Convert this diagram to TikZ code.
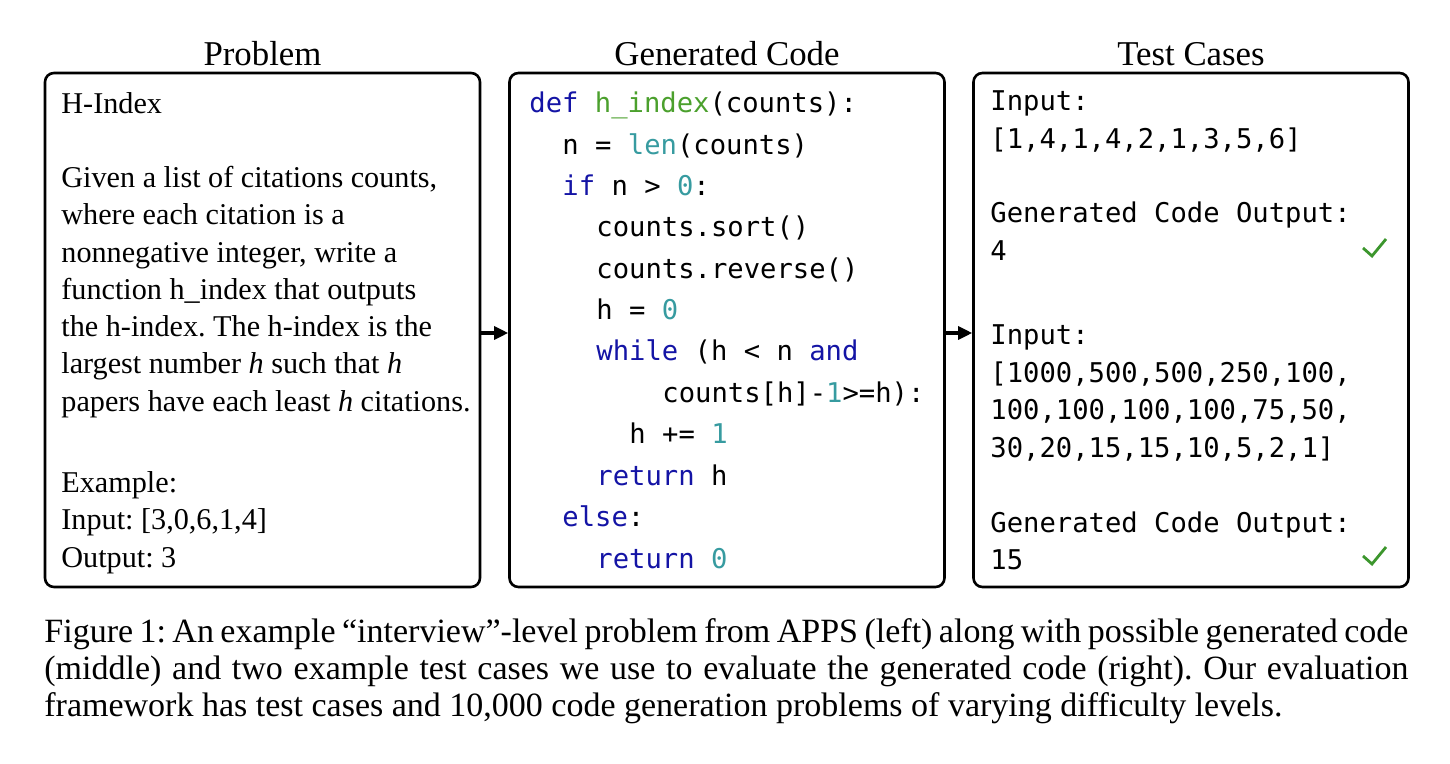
\documentclass[tikz,border=0pt]{standalone}
\usepackage{fontspec}
\setmainfont{Liberation Serif}
\setmonofont{DejaVu Sans Mono}
\usetikzlibrary{arrows.meta}
\definecolor{kw}{RGB}{20,20,165}
\definecolor{fn}{RGB}{75,160,45}
\definecolor{num}{RGB}{55,155,160}
\definecolor{tickgreen}{RGB}{60,150,45}
\frenchspacing
\begin{document}
\begin{tikzpicture}[x=0.5pt,y=-0.5pt]
\useasboundingbox (0,0) rectangle (1450,764);
\tikzset{
 panel/.style={draw, line width=1.3pt, rounded corners=4.5pt, minimum width=217.5pt, minimum height=257pt, inner sep=0pt},
 paneltitle/.style={font=\fontsize{17.4}{20}\selectfont, anchor=base, inner sep=0pt},
 prose/.style={font=\fontsize{15.1}{18}\selectfont, anchor=base west, inner sep=0pt},
 codeline/.style={font=\fontsize{13.6}{16}\ttfamily, anchor=base west, inner sep=0pt},
 captext/.style={font=\fontsize{17}{19}\selectfont, anchor=base west, inner sep=0pt},
 flow/.style={-{Triangle[length=7pt,width=6.5pt]}, line width=1.6pt},
 checkmark/.style={draw=tickgreen, line width=1.4pt}
}
% panels
\node[panel] (prob) at (262.5,330) {};
\node[panel] (gen) at (727,330) {};
\node[panel] (test) at (1191,330) {};
% titles
\node[paneltitle] (t1) at (262.5,66) {Problem};
\node[paneltitle] (t2) at (727,66) {Generated Code};
\node[paneltitle] (t3) at (1191,66) {Test Cases};
% arrows
\draw[flow] ([yshift=-1.5pt]prob.east) -- ([yshift=-1.5pt]gen.west);
\draw[flow] ([yshift=-1.5pt]gen.east) -- ([yshift=-1.5pt]test.west);
% problem text
\node[prose] (p0) at (61,114) {H-Index};
\node[prose] (p1) at (61,188) {Given a list of citations counts,};
\node[prose] (p2) at (61,225) {where each citation is a};
\node[prose] (p3) at (61,263) {nonnegative integer, write a};
\node[prose] (p4) at (61,300) {function h\_index that outputs};
\node[prose] (p5) at (61,337) {the h-index. The h-index is the};
\node[prose] (p6) at (61,374) {largest number \textit{h} such that \textit{h}};
\node[prose] (p7) at (61,411) {papers have each least \textit{h} citations.};
\node[prose] (p8) at (61,492) {Example:};
\node[prose] (p9) at (61,529) {Input: [3,0,6,1,4]};
\node[prose] (p10) at (61,567) {Output: 3};
% code
\node[codeline] (c1) at (529,113) {\textcolor{kw}{def} \textcolor{fn}{h\_index}(counts):};
\node[codeline] (c2) at (562,154.5) {n = \textcolor{num}{len}(counts)};
\node[codeline] (c3) at (562,196) {\textcolor{kw}{if} n > \textcolor{num}{0}:};
\node[codeline] (c4) at (596,237) {counts.sort()};
\node[codeline] (c5) at (596,278.5) {counts.reverse()};
\node[codeline] (c6) at (596,320) {h = \textcolor{num}{0}};
\node[codeline] (c7) at (596,361) {\textcolor{kw}{while} (h < n \textcolor{kw}{and}};
\node[codeline] (c8) at (662,402.5) {counts[h]-\textcolor{num}{1}>=h):};
\node[codeline] (c9) at (629,444) {h += \textcolor{num}{1}};
\node[codeline] (c10) at (596,485) {\textcolor{kw}{return} h};
\node[codeline] (c11) at (562,526.5) {\textcolor{kw}{else}:};
\node[codeline] (c12) at (596,568) {\textcolor{kw}{return} \textcolor{num}{0}};
% test cases
\node[codeline] (s1) at (990,111) {Input:};
\node[codeline] (s2) at (990,149) {[1,4,1,4,2,1,3,5,6]};
\node[codeline] (s3) at (990,223) {Generated Code Output:};
\node[codeline] (s4) at (990,261) {4};
\node[codeline] (s5) at (990,345) {Input:};
\node[codeline] (s6) at (990,383) {[1000,500,500,250,100,};
\node[codeline] (s7) at (990,420) {100,100,100,100,75,50,};
\node[codeline] (s8) at (990,458) {30,20,15,15,10,5,2,1]};
\node[codeline] (s9) at (990,532) {Generated Code Output:};
\node[codeline] (s10) at (990,569) {15};
% checkmarks
\draw[checkmark] (1363,248) -- (1372,256) -- (1386,239);
\draw[checkmark] (1363,556) -- (1372,564) -- (1386,547);
% caption
\node[captext] (k1) at (44,642) {\makebox[682pt][s]{Figure 1: An example “interview”-level problem from APPS (left) along with possible generated code}};
\node[captext] (k2) at (44,679) {\makebox[682pt][s]{(middle) and two example test cases we use to evaluate the generated code (right). Our evaluation}};
\node[captext] (k3) at (44,716) {framework has test cases and 10,000 code generation problems of varying difficulty levels.};
\end{tikzpicture}
\end{document}
